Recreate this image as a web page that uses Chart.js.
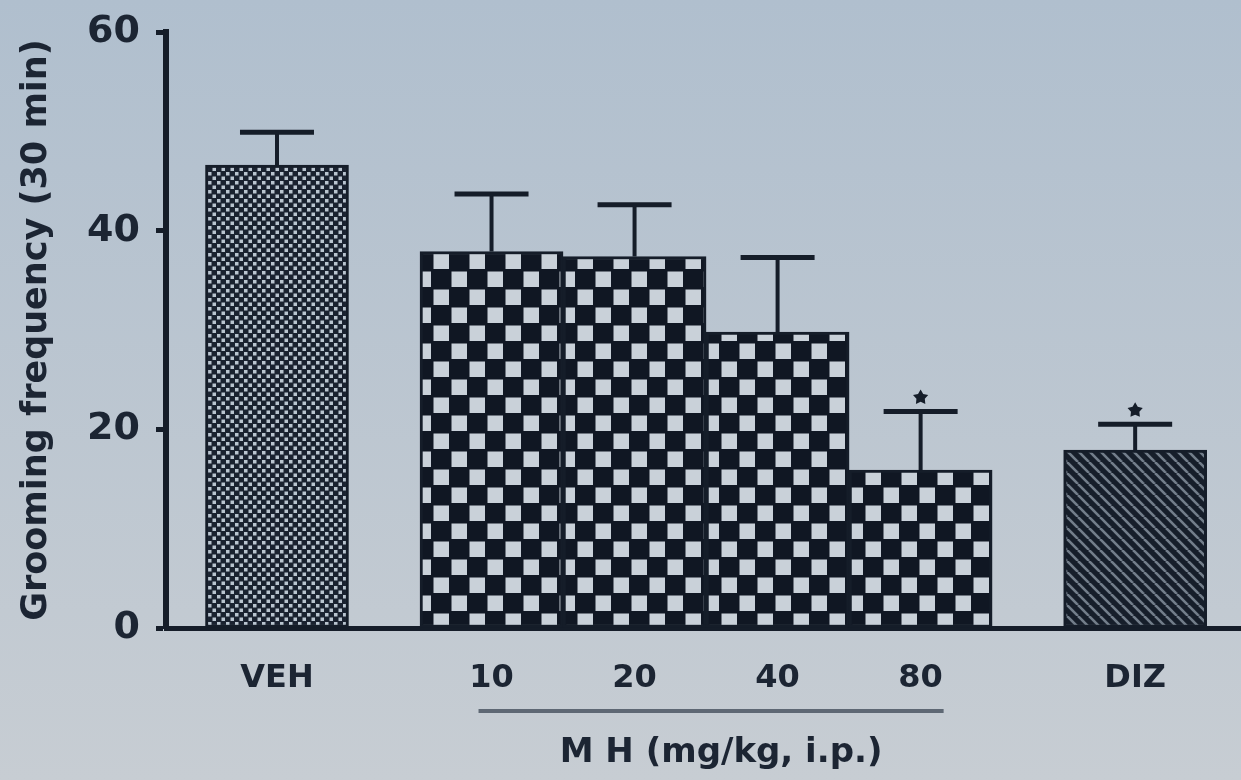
<!DOCTYPE html>
<html><head><meta charset="utf-8">
<script src="https://cdn.jsdelivr.net/npm/chart.js@4/dist/chart.umd.min.js"></script>
<style>
html,body{margin:0;padding:0;width:1241px;height:780px;overflow:hidden;background:linear-gradient(#b0bfce,#c7cdd3);}
canvas{display:block}
</style></head><body>
<canvas id="c" width="1241" height="780"></canvas>
<script>
// ---- data ----
const categories = ['VEH', '10', '20', '40', '80', 'DIZ'];
const groups = ['VEH', 'MH', 'MH', 'MH', 'MH', 'DIZ'];
const meanValues = [46.6, 37.9, 37.4, 29.8, 15.9, 17.9];
const semValues = [3.3, 5.8, 5.2, 7.5, 5.9, 2.6];
const significant = [false, false, false, false, true, true];
const yTickValues = [0, 20, 40, 60];
const groupTitle = 'M H (mg/kg, i.p.)';
const yTitle = 'Grooming frequency (30 min)';

// ---- layout from group structure ----
const positions = [];
let acc = 0;
categories.forEach((c, i) => {
  if (i > 0) { acc += 1; if (groups[i] !== groups[i - 1]) acc += 0.5; }
  positions.push(acc);
});

const INK = '#151d29';
const TEXT = '#1c2533';
const FONT = '"DejaVu Sans", sans-serif';

const canvas = document.getElementById('c');
const ctx = canvas.getContext('2d');

function makePattern(kind) {
  const t = document.createElement('canvas');
  const g = t.getContext('2d');
  if (kind === 'fine') {
    t.width = 9; t.height = 9;
    g.fillStyle = '#1a2230'; g.fillRect(0, 0, 9, 9);
    g.fillStyle = '#b9c4cf';
    g.fillRect(1, 1, 3.5, 3.5);
    g.fillRect(5.5, 5.5, 3.5, 3.5);
  } else if (kind === 'checker') {
    t.width = 36; t.height = 36;
    g.fillStyle = '#101723'; g.fillRect(0, 0, 36, 36);
    g.fillStyle = '#c9d1d9';
    g.fillRect(1.5, 1.5, 15.5, 15.5);
    g.fillRect(19.5, 19.5, 15.5, 15.5);
  } else {
    t.width = 11; t.height = 11;
    g.fillStyle = '#161e2a'; g.fillRect(0, 0, 11, 11);
    g.strokeStyle = '#737e8b'; g.lineWidth = 2.6;
    for (let k = -1; k <= 1; k++) {
      g.beginPath(); g.moveTo(k * 11, 0); g.lineTo(k * 11 + 11, 11); g.stroke();
    }
  }
  return ctx.createPattern(t, 'repeat');
}
const fills = groups.map(gr => gr === 'VEH' ? makePattern('fine') : gr === 'MH' ? makePattern('checker') : makePattern('stripes'));

const errorBarPlugin = {
  id: 'errorBars',
  afterDatasetsDraw(chart) {
    const xs = chart.scales.x, ys = chart.scales.y, c = chart.ctx;
    c.save();
    c.strokeStyle = INK; c.fillStyle = INK;
    meanValues.forEach((m, i) => {
      const x = xs.getPixelForValue(positions[i]);
      const y0 = ys.getPixelForValue(m);
      const y1 = ys.getPixelForValue(m + semValues[i]);
      c.lineWidth = 4;
      c.beginPath(); c.moveTo(x, y0); c.lineTo(x, y1); c.stroke();
      c.lineWidth = 5;
      c.beginPath(); c.moveTo(x - 37, y1); c.lineTo(x + 37, y1); c.stroke();
      if (significant[i]) {
        const cy = y1 - 14, r = 8;
        c.beginPath();
        for (let k = 0; k < 10; k++) {
          const a = -Math.PI / 2 + k * Math.PI / 5;
          const rr = k % 2 === 0 ? r : r * 0.55;
          const px = x + rr * Math.cos(a), py = cy + rr * Math.sin(a);
          if (k === 0) c.moveTo(px, py); else c.lineTo(px, py);
        }
        c.closePath(); c.fill();
      }
    });
    c.restore();
  }
};

const groupLabelPlugin = {
  id: 'groupLabel',
  afterDraw(chart) {
    const xs = chart.scales.x, c = chart.ctx;
    const idx = groups.map((g, i) => g === 'MH' ? i : -1).filter(i => i >= 0);
    const xa = xs.getPixelForValue(positions[idx[0]]) - 13;
    const xb = xs.getPixelForValue(positions[idx[idx.length - 1]]) + 23;
    c.save();
    c.strokeStyle = '#5e6874'; c.lineWidth = 4;
    c.beginPath(); c.moveTo(xa, 711); c.lineTo(xb, 711); c.stroke();
    c.fillStyle = TEXT;
    c.font = 'bold 34px ' + FONT;
    c.textAlign = 'center'; c.textBaseline = 'middle';
    c.fillText(groupTitle, (xa + xb) / 2 + 10, 753);
    c.restore();
  }
};

new Chart(canvas, {
  type: 'bar',
  data: {
    datasets: [{
      data: meanValues.map((v, i) => ({ x: positions[i], y: v })),
      backgroundColor: fills,
      borderColor: INK,
      borderWidth: 3,
      borderSkipped: false,
      categoryPercentage: 1,
      barPercentage: 1
    }]
  },
  options: {
    responsive: false,
    animation: false,
    devicePixelRatio: 1,
    layout: { padding: { top: 32, right: 0, bottom: 0, left: 0 } },
    plugins: { legend: { display: false }, tooltip: { enabled: false } },
    scales: {
      x: {
        type: 'linear',
        offset: false,
        min: -0.776,
        max: 6.74,
        afterBuildTicks: s => { s.ticks = positions.map(v => ({ value: v })); },
        afterFit: s => { s.height = 152; },
        ticks: {
          autoSkip: false, maxRotation: 0, padding: 31,
          color: TEXT, font: { family: FONT, size: 32, weight: 'bold' },
          callback: v => { const i = positions.indexOf(v); return i >= 0 ? categories[i] : ''; }
        },
        grid: { display: false, drawTicks: false, offset: false },
        border: { display: true, width: 5, color: INK }
      },
      y: {
        min: 0, max: 60,
        afterBuildTicks: s => { s.ticks = yTickValues.map(v => ({ value: v })); },
        afterFit: s => { s.width = 166; s.paddingTop = 0; s.paddingBottom = 0; },
        ticks: { padding: 16, color: TEXT, font: { family: FONT, size: 38, weight: 'bold' } },
        grid: { display: true, drawOnChartArea: false, drawTicks: true, tickLength: 10, tickWidth: 5, tickColor: INK, color: INK },
        border: { display: true, width: 6, color: INK },
        title: { display: true, text: yTitle, color: TEXT, padding: { top: 16, bottom: 0 }, font: { family: FONT, size: 35, weight: 'bold' } }
      }
    }
  },
  plugins: [errorBarPlugin, groupLabelPlugin]
});
</script>
</body></html>
